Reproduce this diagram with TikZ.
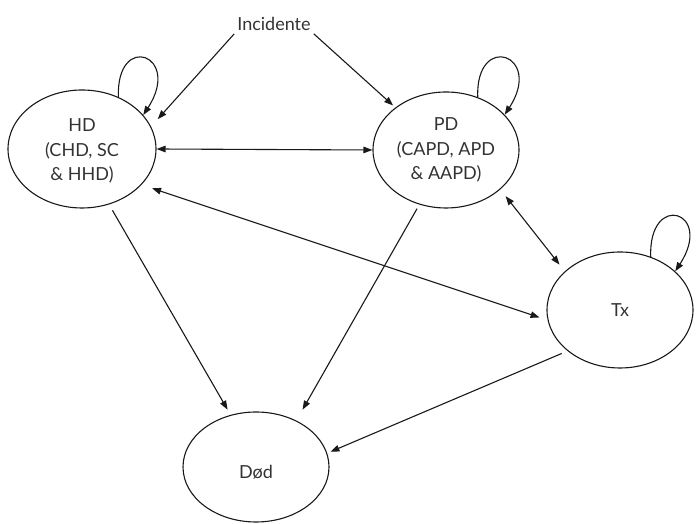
\documentclass[tikz,border=0pt]{standalone}
\usepackage{fontspec}
\setmainfont{Lato}
\usetikzlibrary{arrows.meta,shapes.geometric}

\begin{document}
\begin{tikzpicture}[x=1pt,y=1pt,
  tip/.tip={Triangle[length=9pt,width=6.5pt]},
  state/.style={draw=black!90, line width=1.1pt, ellipse, inner sep=0pt,
                minimum width=146pt, minimum height=116pt},
  txt/.style={font=\fontsize{18}{24.5}\selectfont, text=black!80, align=center},
  link/.style={draw=black!90, line width=1.1pt, -tip},
  both/.style={draw=black!90, line width=1.1pt, tip-tip},
  loopback/.style={link}]
\useasboundingbox (0,0) rectangle (697,524);

% states
\node[txt, inner sep=3pt] (inc) at (274,500) {Incidente};
\node[state, minimum width=148pt, minimum height=118pt,
      label={[txt, yshift=-2pt]center:{HD\\(CHD, SC\\\& HHD)}}] (hd) at (82,375) {};
\node[state, label={[txt]center:{PD\\(CAPD, APD\\\& AAPD)}}] (pd) at (446,374) {};
\node[state, label={[txt]center:{Tx}}] (tx) at (620,214) {};
\node[state, minimum height=110pt,
      label={[txt, yshift=-5pt]center:{Død}}] (dod) at (256,57) {};

% entry into treatment
\draw[link, shorten >=10pt] (inc.south west) -- (hd.18);
\draw[link, shorten >=3pt] (inc.south east) -- (pd.140);

% staying in the same state
\draw[loopback] (hd.55) .. controls +(92:66) and +(57:72) .. (hd.29);
\draw[loopback] (pd.59) .. controls +(92:66) and +(57:72) .. (pd.31);
\draw[loopback] (tx.60) .. controls +(92:66) and +(57:72) .. (tx.35);

% switches between modalities
\draw[both] (hd.0) -- (pd.180);
\draw[both, shorten <=11pt, shorten >=8.5pt] (hd.-31) -- (tx.188);
\draw[both, shorten <=8.5pt, shorten >=8.5pt] (pd.-36) -- (tx.145);

% death
\draw[link, shorten <=6.8pt, shorten >=6pt] (hd.-64) -- (dod.116);
\draw[link, shorten <=4.7pt, shorten >=12.5pt] (pd.244) -- (dod.49);
\draw[link, shorten <=6.3pt, shorten >=3.5pt] (tx.218) -- (dod.11);
\end{tikzpicture}
\end{document}
